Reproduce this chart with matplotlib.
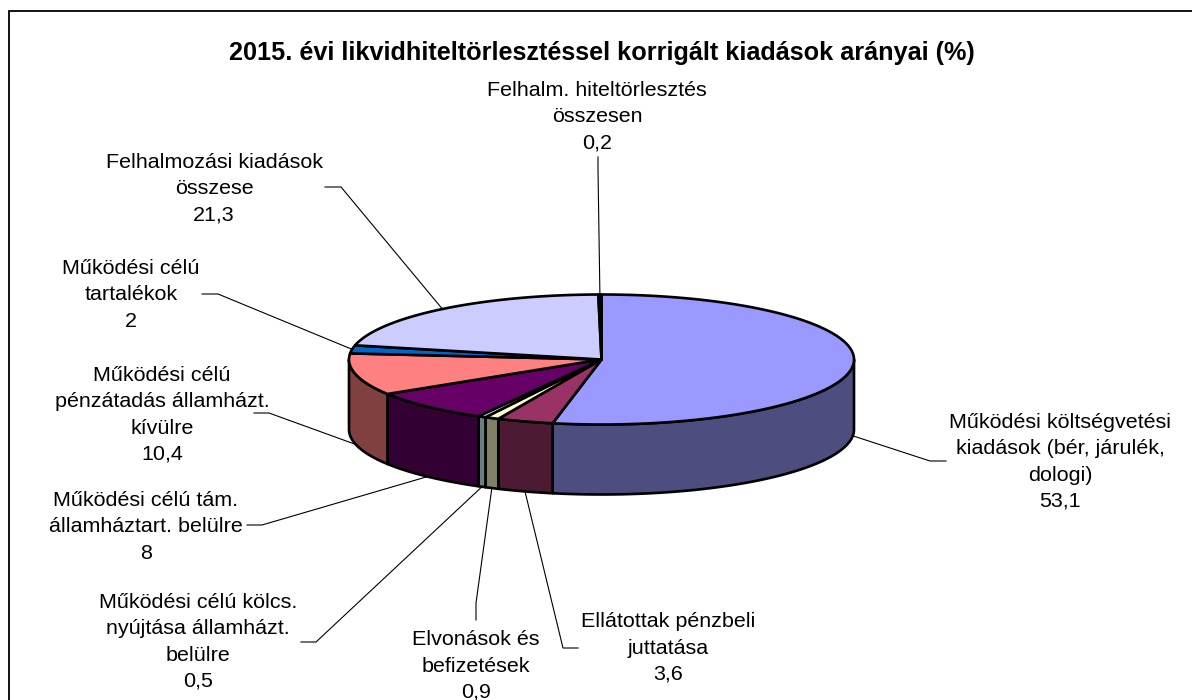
import numpy as np
import matplotlib
matplotlib.use("Agg")
import matplotlib.pyplot as plt
from matplotlib.patches import Polygon

plt.rcParams['font.family'] = ['Liberation Sans', 'DejaVu Sans']

title = "2015. évi likvidhiteltörlesztéssel korrigált kiadások arányai (%)"
categories = [
    "Működési költségvetési\nkiadások (bér, járulék,\ndologi)",
    "Ellátottak pénzbeli\njuttatása",
    "Elvonások és\nbefizetések",
    "Működési célú kölcs.\nnyújtása államházt.\nbelülre",
    "Működési célú tám.\nállamháztart. belülre",
    "Működési célú\npénzátadás államházt.\nkívülre",
    "Működési célú\ntartalékok",
    "Felhalmozási kiadások\nösszese",
    "Felhalm. hiteltörlesztés\nösszesen",
]
values = [53.1, 3.6, 0.9, 0.5, 8, 10.4, 2, 21.3, 0.2]
value_labels = ["53,1", "3,6", "0,9", "0,5", "8", "10,4", "2", "21,3", "0,2"]
top_colors = ["#9999FF", "#993366", "#FFFFCC", "#CCFFFF", "#660066",
              "#FF8080", "#0066CC", "#CCCCFF", "#000080"]
side_colors = ["#4D4D80", "#4D1A33", "#808066", "#668080", "#330033",
               "#804040", "#003366", "#666680", "#000040"]

# layout (pixels)
CX, CY, RX, RY, DEPTH = 601.5, 359.5, 252.5, 65.0, 70.0
label_xy = [(1060, 462), (668, 648), (476, 666), (198, 642), (146, 527),
            (162, 415), (131, 295), (214, 189), (597, 117)]
elbows = [(930, 461), (563, 648), (476, 603), (316, 642), (262, 525),
          (269, 413), (218, 294), (341, 187), (598, 170)]
ends = [(946, 461), (578, 648), (476, 620), (301, 642), (247, 525),
        (254, 413), (202, 294), (325, 187), (598, 157)]

fig = plt.figure(figsize=(11.92, 7.0), dpi=100, facecolor="white")
ax = fig.add_axes([0, 0, 1, 1])
ax.set_xlim(0, 1192)
ax.set_ylim(700, 0)
ax.axis("off")

# chart frame: only left and top edges fall inside the picture
ax.plot([9, 9, 1192], [700, 11, 11], color="black", lw=1.3, solid_joinstyle="miter", zorder=1)


def pt(a, dy=0.0):
    a = np.asarray(a)
    return CX + RX * np.sin(a), CY - RY * np.cos(a) + dy


fractions = np.array(values, dtype=float) / np.sum(values)
edges = np.concatenate([[0], np.cumsum(fractions)]) * 2 * np.pi
EDGE = dict(edgecolor="black", lw=1.9, joinstyle="round")

# side walls: only the front half of the rim is seen
for i in range(len(values)):
    a0 = max(edges[i], np.pi / 2)
    a1 = min(edges[i + 1], 3 * np.pi / 2)
    if a1 <= a0:
        continue
    t = np.linspace(a0, a1, 120)
    xt, yt = pt(t)
    xb, yb = pt(t[::-1], DEPTH)
    ax.add_patch(Polygon(np.r_[np.c_[xt, yt], np.c_[xb, yb]], closed=True,
                         facecolor=side_colors[i], zorder=3, **EDGE))

# top faces
for i in range(len(values)):
    t = np.linspace(edges[i], edges[i + 1], 240)
    xt, yt = pt(t)
    ax.add_patch(Polygon(np.r_[[[CX, CY]], np.c_[xt, yt]], closed=True,
                         facecolor=top_colors[i], zorder=4, **EDGE))

# leader lines and labels
mids = (edges[:-1] + edges[1:]) / 2
for i, m in enumerate(mids):
    front = np.pi / 2 < m < 3 * np.pi / 2
    sx, sy = pt(m, DEPTH if front else 0.0)
    ax.plot([sx, elbows[i][0], ends[i][0]], [sy, elbows[i][1], ends[i][1]],
            color="black", lw=0.8, zorder=2, solid_joinstyle="miter")
    ax.text(label_xy[i][0], label_xy[i][1], categories[i] + "\n" + value_labels[i],
            ha="center", va="center", fontsize=15.45, color="black",
            linespacing=1.47, zorder=5)

ax.text(602, 53, title, ha="center", va="center", fontsize=18.2,
        fontweight="bold", color="black", zorder=5)

fig.savefig("out.png", dpi=100, facecolor="white")
